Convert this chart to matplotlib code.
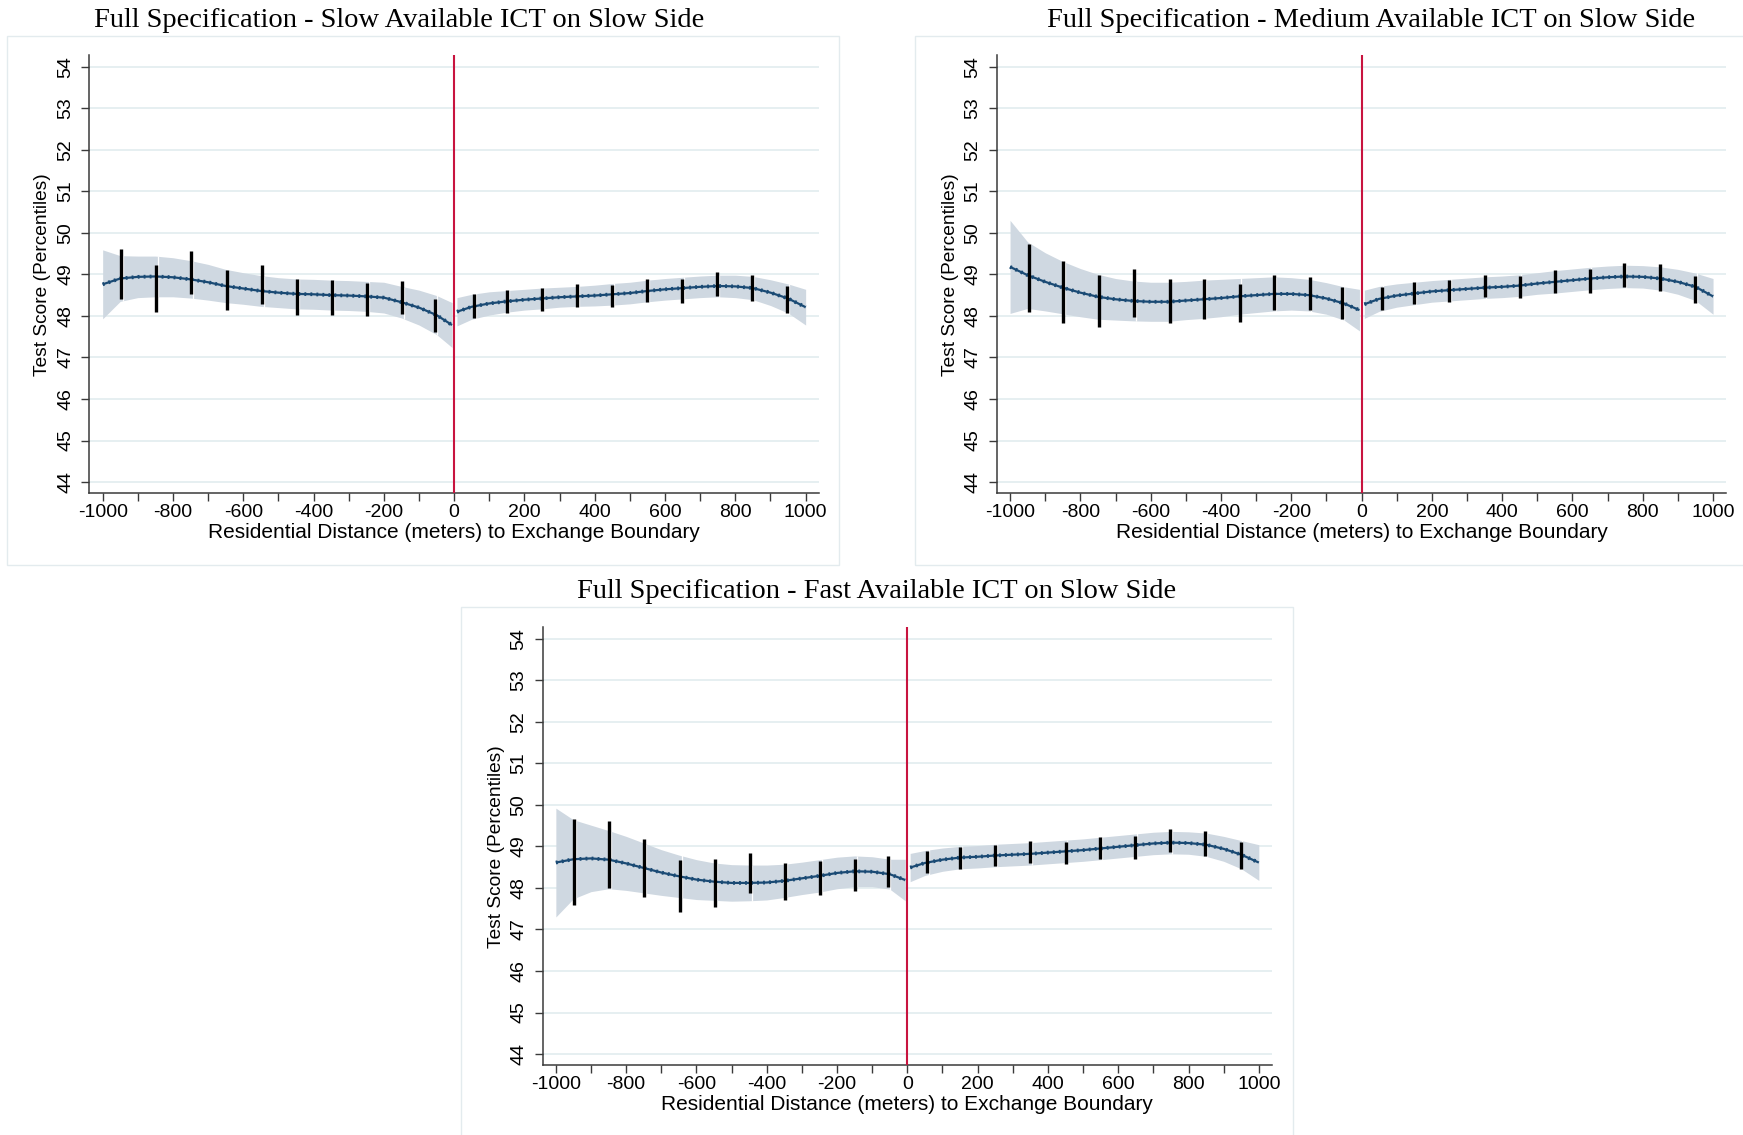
import matplotlib
matplotlib.use("Agg")
import matplotlib.pyplot as plt
from matplotlib.patches import Rectangle
import numpy as np

# evaluation points of the local polynomial fits (meters)
x_left = [-1000, -950, -900, -850, -800, -750, -700, -650, -600, -550, -500,
          -450, -400, -350, -300, -250, -200, -150, -100, -50, -6]
x_right = [8, 50, 100, 150, 200, 250, 300, 350, 400, 450, 500,
           550, 600, 650, 700, 750, 800, 850, 900, 950, 1000]

# panel 1 - slow
fit1_left = [48.76, 48.90, 48.94, 48.95, 48.93, 48.88, 48.81, 48.72, 48.66, 48.60, 48.56,
             48.53, 48.52, 48.50, 48.49, 48.47, 48.44, 48.33, 48.20, 48.02, 47.78]
hw1_left = [0.83, 0.55, 0.50, 0.49, 0.47, 0.45, 0.43, 0.40, 0.38, 0.37, 0.36,
            0.36, 0.36, 0.36, 0.36, 0.36, 0.37, 0.38, 0.42, 0.47, 0.54]
fit1_right = [48.10, 48.22, 48.30, 48.35, 48.39, 48.42, 48.45, 48.47, 48.49, 48.52, 48.55,
              48.60, 48.64, 48.67, 48.70, 48.72, 48.71, 48.67, 48.56, 48.42, 48.21]
hw1_right = [0.34, 0.30, 0.28, 0.26, 0.25, 0.25, 0.24, 0.24, 0.25, 0.26, 0.26,
             0.26, 0.26, 0.26, 0.26, 0.26, 0.27, 0.28, 0.31, 0.35, 0.43]

# panel 2 - medium
fit2_left = [49.18, 48.98, 48.82, 48.68, 48.56, 48.46, 48.40, 48.36, 48.34, 48.34, 48.37,
             48.40, 48.43, 48.47, 48.50, 48.53, 48.53, 48.50, 48.42, 48.30, 48.14]
hw2_left = [1.12, 0.80, 0.70, 0.63, 0.58, 0.54, 0.50, 0.48, 0.47, 0.47, 0.46,
            0.46, 0.45, 0.43, 0.42, 0.41, 0.39, 0.38, 0.38, 0.40, 0.50]
fit2_right = [48.28, 48.41, 48.49, 48.54, 48.59, 48.62, 48.65, 48.68, 48.70, 48.73, 48.78,
              48.82, 48.86, 48.90, 48.93, 48.95, 48.94, 48.90, 48.82, 48.70, 48.47]
hw2_right = [0.34, 0.30, 0.28, 0.27, 0.26, 0.26, 0.26, 0.26, 0.26, 0.26, 0.26,
             0.27, 0.27, 0.27, 0.27, 0.27, 0.27, 0.28, 0.30, 0.33, 0.43]

# panel 3 - fast
fit3_left = [48.61, 48.69, 48.71, 48.68, 48.59, 48.48, 48.37, 48.28, 48.20, 48.15, 48.12,
             48.12, 48.13, 48.17, 48.23, 48.29, 48.36, 48.40, 48.39, 48.33, 48.19]
hw3_left = [1.31, 0.95, 0.80, 0.70, 0.65, 0.60, 0.55, 0.51, 0.48, 0.45, 0.44,
            0.43, 0.42, 0.40, 0.39, 0.39, 0.38, 0.37, 0.36, 0.36, 0.50]
fit3_right = [48.49, 48.60, 48.68, 48.73, 48.75, 48.78, 48.80, 48.82, 48.85, 48.88, 48.91,
              48.95, 48.99, 49.03, 49.07, 49.09, 49.08, 49.04, 48.94, 48.80, 48.61]
hw3_right = [0.34, 0.30, 0.28, 0.27, 0.27, 0.27, 0.27, 0.27, 0.27, 0.27, 0.27,
             0.27, 0.27, 0.27, 0.27, 0.27, 0.27, 0.28, 0.30, 0.34, 0.43]

# binned means: 95% CI bars
bin_x = [-947, -848, -748, -647, -546, -447, -347, -248, -148, -55,
         57, 150, 250, 350, 450, 549, 649, 748, 848, 948]
bar1_lo = [48.40, 48.10, 48.53, 48.15, 48.29, 48.03, 48.03, 48.00, 48.05, 47.62,
           47.96, 48.08, 48.12, 48.21, 48.22, 48.33, 48.32, 48.48, 48.37, 48.06]
bar1_hi = [49.61, 49.22, 49.56, 49.10, 49.22, 48.90, 48.86, 48.78, 48.84, 48.41,
           48.52, 48.62, 48.67, 48.76, 48.74, 48.89, 48.89, 49.05, 48.99, 48.73]
bar2_lo = [48.10, 47.84, 47.74, 47.98, 47.84, 47.92, 47.86, 48.14, 48.14, 47.93,
           48.14, 48.29, 48.33, 48.46, 48.44, 48.56, 48.56, 48.70, 48.61, 48.30]
bar2_hi = [49.73, 49.32, 48.98, 49.13, 48.89, 48.89, 48.77, 48.98, 48.94, 48.70,
           48.69, 48.81, 48.86, 48.98, 48.96, 49.10, 49.12, 49.27, 49.25, 48.96]
bar3_lo = [47.59, 48.00, 47.77, 47.43, 47.55, 47.87, 47.71, 47.84, 47.93, 48.01,
           48.35, 48.45, 48.52, 48.59, 48.58, 48.69, 48.69, 48.86, 48.76, 48.45]
bar3_hi = [49.66, 49.60, 49.18, 48.68, 48.69, 48.84, 48.60, 48.65, 48.70, 48.77,
           48.90, 48.99, 49.04, 49.14, 49.11, 49.22, 49.25, 49.42, 49.36, 49.10]

titles = ["Full Specification - Slow Available ICT on Slow Side",
          "Full Specification - Medium Available ICT on Slow Side",
          "Full Specification - Fast Available ICT on Slow Side"]
x_ticks = list(range(-1000, 1001, 100))
y_ticks = list(range(44, 55))

W, H = 1743, 1135
sans = "Liberation Sans"
serif = "Liberation Serif"
navy = "#1a4a74"
band_col = "#cfd8e1"
red = "#c8143f"
grid_col = "#e6eff1"
axis_col = "#3a3a3a"

panels = [
    # axes left, axes top (px), title centre x, title baseline, box (x0, y0, x1, y1)
    dict(left=89.3, top=55, tx=399, ty=27, box=(7.3, 36, 839, 565),
         fits=(fit1_left, hw1_left, fit1_right, hw1_right), bars=(bar1_lo, bar1_hi)),
    dict(left=996.7, top=55, tx=1371, ty=27, box=(915, 36, 1745, 565),
         fits=(fit2_left, hw2_left, fit2_right, hw2_right), bars=(bar2_lo, bar2_hi)),
    dict(left=542.5, top=627, tx=877, ty=598, box=(461, 607, 1293, 1137),
         fits=(fit3_left, hw3_left, fit3_right, hw3_right), bars=(bar3_lo, bar3_hi)),
]
ax_w, ax_h = 729.7, 438.3

fig = plt.figure(figsize=(W / 100, H / 100), dpi=100)

for p, title in zip(panels, titles):
    x0, y0, x1, y1 = p["box"]
    fig.patches.append(Rectangle((x0 / W, 1 - y1 / H), (x1 - x0) / W, (y1 - y0) / H,
                                 transform=fig.transFigure, fill=False,
                                 edgecolor="#e3ebee", lw=1.0))
    fig.text(p["tx"] / W, 1 - p["ty"] / H, title, ha="center", va="baseline",
             fontsize=20.5, family=serif)

    ax = fig.add_axes([p["left"] / W, 1 - (p["top"] + ax_h) / H, ax_w / W, ax_h / H])
    ax.set_xlim(-1038, 1038)
    ax.set_ylim(43.73, 54.28)
    for y in y_ticks:
        ax.axhline(y, color=grid_col, lw=1.4, zorder=0)

    fl, hl, fr, hr = [np.array(a) for a in p["fits"]]
    for xs, f, h in ((np.array(x_left), fl, hl), (np.array(x_right), fr, hr)):
        ax.fill_between(xs, f - h, f + h, color=band_col, lw=0, zorder=1)
        # thin white breaks in the band next to each bin
        cuts = [b + 5 for b in bin_x if xs[0] < b + 5 < xs[-1]]
        ax.vlines(cuts, np.interp(cuts, xs, f - h) - 0.01, np.interp(cuts, xs, f + h) + 0.01,
                  color="white", lw=0.9, zorder=2)
        ax.plot(xs, f, color=navy, lw=1.6, zorder=3, solid_capstyle="butt")
        ax.plot(xs, f, color=navy, lw=2.7, zorder=3, linestyle=(0, (0.5, 1.1)))

    lo, hi = p["bars"]
    ax.vlines(bin_x, lo, hi, color="black", lw=2.4, zorder=4)
    ax.axvline(0, color=red, lw=1.5, zorder=5)

    for s in ("top", "right"):
        ax.spines[s].set_visible(False)
    for s in ("left", "bottom"):
        ax.spines[s].set_color(axis_col)
        ax.spines[s].set_linewidth(1.1)

    ax.set_xticks(x_ticks)
    ax.set_xticklabels([str(t) if t % 200 == 0 else "" for t in x_ticks],
                       fontsize=14, family=sans)
    ax.set_yticks(y_ticks)
    ax.set_yticklabels([str(t) for t in y_ticks], fontsize=14, family=sans)
    ax.tick_params(axis="x", length=5.5, width=1, color=axis_col, pad=2.5)
    ax.tick_params(axis="y", length=5.5, width=1, color=axis_col, pad=5.5, labelrotation=90)
    for lab in ax.get_yticklabels():
        lab.set_va("center")

    ax.set_xlabel("Residential Distance (meters) to Exchange Boundary",
                  fontsize=15, family=sans, labelpad=1)
    ax.set_ylabel("Test Score (Percentiles)", fontsize=13.8, family=sans, labelpad=4)

fig.savefig("out.png", dpi=100)
